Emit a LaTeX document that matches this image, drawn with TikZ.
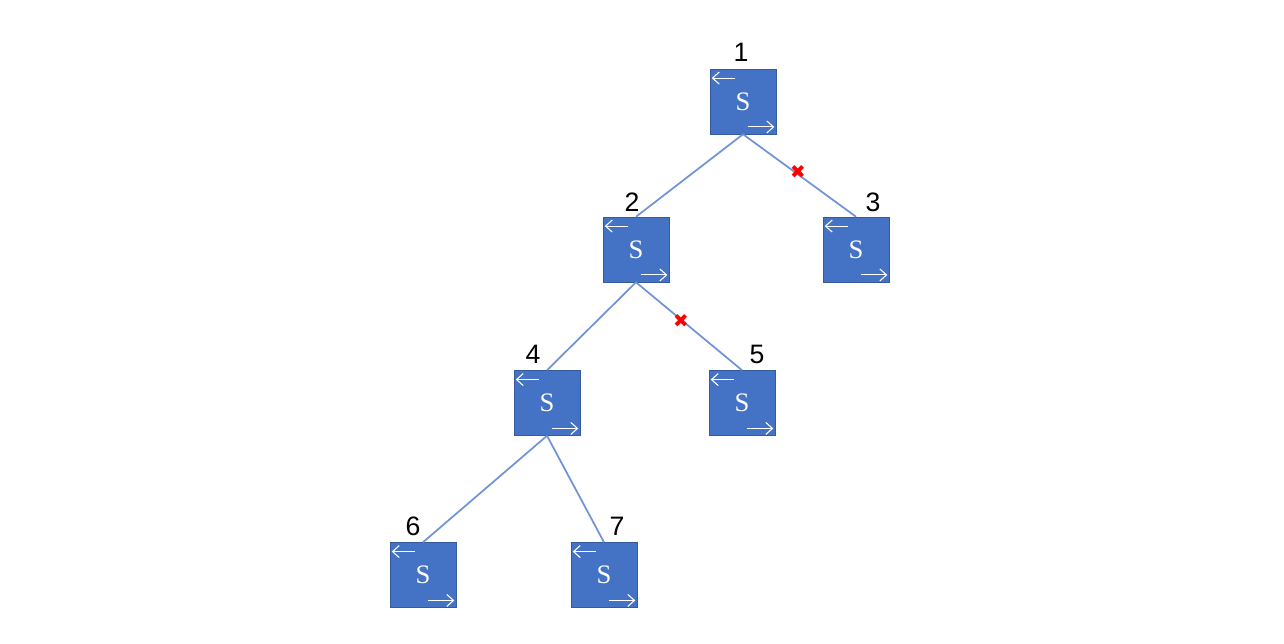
\documentclass[tikz,border=0pt]{standalone}
\usepackage{fontspec}
\setsansfont{Liberation Sans}
\newfontfamily\sym{DejaVu Sans}
\newfontfamily\sfont{Liberation Serif}
\usetikzlibrary{arrows.meta}
\definecolor{sw}{HTML}{4472C4}
\definecolor{ln}{HTML}{7093D8}
\tikzset{
 swbox/.style={draw=sw!80!black,fill=sw,minimum width=49.5pt,minimum height=48.75pt,inner sep=0pt,
   font=\sfont\fontsize{20}{20}\selectfont,text=white},
 num/.style={font=\sffamily\fontsize{20}{20}\selectfont,inner sep=0pt},
 edge/.style={draw=ln,line width=1.3pt},
 xmark/.style={text=red,font=\sym\bfseries\fontsize{14}{14}\selectfont,inner sep=0pt},
 warrow/.style={white,line width=0.8pt,-{Straight Barb[length=5pt,width=9pt]}}
}
\newcommand{\swnode}[3]{%
 \node[swbox] (#1) at (#2,#3) {S};
 \draw[warrow] ([xshift=-6pt,yshift=-7pt]#1.north) -- ([xshift=1.5pt,yshift=-7pt]#1.north west);
 \draw[warrow] ([xshift=3.5pt,yshift=5.5pt]#1.south) -- ([xshift=-1.5pt,yshift=5.5pt]#1.south east);
}
\begin{document}
\begin{tikzpicture}[x=0.75pt,y=-0.75pt]
\useasboundingbox (0,0) rectangle (1284,643);
\swnode{s1}{743}{101.5}
\swnode{s2}{636}{249.5}
\swnode{s3}{856}{249.5}
\swnode{s4}{547}{403}
\swnode{s5}{742}{403}
\swnode{s6}{423}{575}
\swnode{s7}{604}{575}
\node[num] (n1) at (741,52) {1};
\node[num] (n2) at (632,202) {2};
\node[num] (n3) at (873,202) {3};
\node[num] (n4) at (533,354) {4};
\node[num] (n5) at (757,354) {5};
\node[num] (n6) at (413,526) {6};
\node[num] (n7) at (617,526) {7};
\draw[edge] (s1.south) -- (s2.north);
\draw[edge] (s1.south) -- (s3.north);
\draw[edge] (s2.south) -- (s4.north);
\draw[edge] (s2.south) -- (s5.north);
\draw[edge] (s4.south) -- (s6.north);
\draw[edge] (s4.south) -- (s7.north);
\node[xmark] (x1) at (798,172) {✖};
\node[xmark] (x2) at (681,321) {✖};
\end{tikzpicture}
\end{document}
